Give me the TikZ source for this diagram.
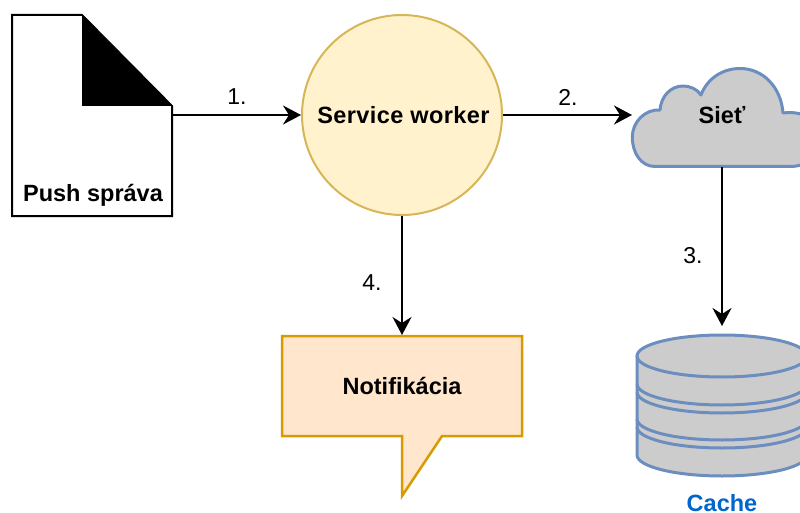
\documentclass[tikz,border=0pt]{standalone}
\usepackage{fontspec}
\setmainfont{Liberation Sans}
\usetikzlibrary{arrows.meta}
\definecolor{cloudblue}{HTML}{6C8EBF}
\definecolor{cloudgray}{HTML}{CCCCCC}
\definecolor{swfill}{HTML}{FFF2CC}
\definecolor{swline}{HTML}{D6B656}
\definecolor{notefill}{HTML}{FFE6CC}
\definecolor{noteline}{HTML}{D79B00}
\definecolor{cachetext}{HTML}{0066CC}
\tikzset{
  px/.style={x=1pt,y=-1pt},
  conn/.style={line width=2pt,-{Stealth[length=18pt,width=19pt,inset=6pt]}},
  title/.style={font=\fontsize{23.5}{26}\selectfont\bfseries,inner sep=0pt},
  steplabel/.style={font=\fontsize{23}{26}\selectfont,inner sep=0pt},
  blueshape/.style={draw=cloudblue,line width=3pt,fill=cloudgray,line join=round},
  bandline/.style={draw=cloudblue,line width=3pt},
}
\begin{document}
\begin{tikzpicture}[px]
\useasboundingbox (0,0) rectangle (800,513);
\clip (0,0) rectangle (800,513);
% document
\draw[line width=2pt,fill=white,line join=miter] (12,15) -- (82,15) -- (172,106) -- (172,216) -- (12,216) -- cycle;
\fill[black] (82,15) -- (172,106) -- (82,106) -- cycle;
\coordinate (docout) at (172,115);
\node[title] (push) at (93,195) {Push správa};
% service worker
\node[circle,draw=swline,fill=swfill,line width=2pt,minimum size=200pt,inner sep=0pt] (sw) at (402,115) {};
\node[title] (swt) at (403.5,115) {\addfontfeatures{LetterSpace=1.8}Service worker};
% cloud
\draw[blueshape] (655,166.5)
  .. controls (641,166.5) and (632.3,153) .. (632.3,137)
  .. controls (632.3,122) and (645,109) .. (660,110)
  .. controls (661,96) and (671,86) .. (683,86)
  .. controls (690,86) and (697,89) .. (701,95)
  .. controls (707,79) and (722,68.5) .. (740,68.5)
  .. controls (763,68.5) and (781,87) .. (783,113)
  .. controls (805,110) and (822,122) .. (822,140)
  .. controls (822,155) and (808,166.5) .. (790,166.5)
  -- cycle;
\coordinate (cloudin) at (632,115);
\coordinate (cloudout) at (722,167);
\node[title] (siet) at (722,115) {Sieť};
% cylinder
\fill[cloudgray] (637,356) rectangle (807,455);
\fill[cloudgray] (722,356) ellipse[x radius=85,y radius=21];
\fill[cloudgray] (722,455) ellipse[x radius=85,y radius=21];
\draw[bandline] (722,356) ellipse[x radius=85,y radius=21];
\draw[bandline] (637,356) -- (637,455) arc[start angle=180,end angle=0,x radius=85,y radius=21] -- (807,356);
\draw[bandline] (637,384) arc[start angle=180,end angle=0,x radius=85,y radius=21];
\draw[bandline] (637,392) arc[start angle=180,end angle=0,x radius=85,y radius=21];
\draw[bandline] (637,419) arc[start angle=180,end angle=0,x radius=85,y radius=21];
\draw[bandline] (637,427) arc[start angle=180,end angle=0,x radius=85,y radius=21];
\coordinate (cachein) at (722,326);
\node[title,text=cachetext] (cache) at (722,503.5) {Cache};
% notification
\draw[draw=noteline,fill=notefill,line width=2.5pt,line join=miter] (282,336) -- (522,336) -- (522,436) -- (442,436) -- (402,496) -- (402,436) -- (282,436) -- cycle;
\coordinate (notein) at (402,335);
\node[title] (note) at (402,386) {Notifikácia};
% connectors
\draw[conn] (docout) -- (sw.west);
\draw[conn] (sw.east) -- (cloudin);
\draw[conn] (cloudout) -- (cachein);
\draw[conn] (sw.south) -- (notein);
% labels
\node[steplabel] (l1) at (237,97) {1.};
\node[steplabel] (l2) at (568,97) {2.};
\node[steplabel] (l3) at (693,256) {3.};
\node[steplabel] (l4) at (372,283) {4.};
\end{tikzpicture}
\end{document}
